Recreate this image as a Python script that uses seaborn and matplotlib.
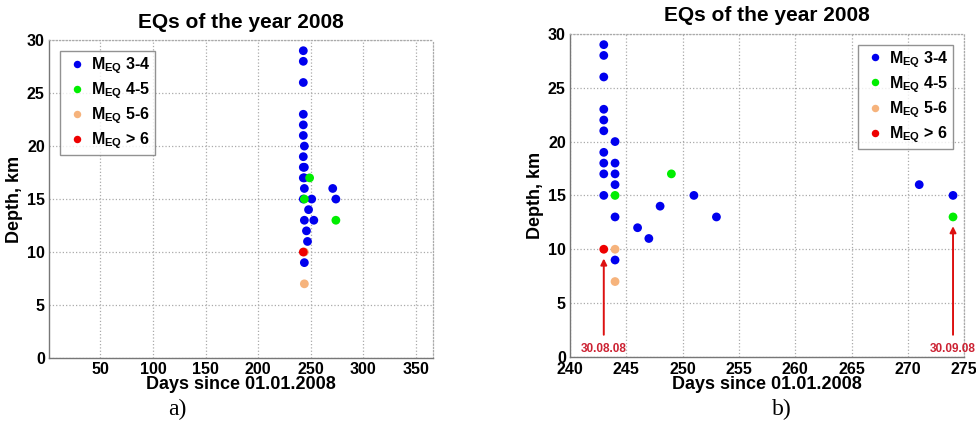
import matplotlib
matplotlib.use("Agg")
import matplotlib.pyplot as plt
import seaborn as sns
import pandas as pd

# events per magnitude class: day of year 2008 and depth in km
blue_days = [243, 243, 243, 243, 243, 243, 243, 243, 243, 243,
             244, 244, 244, 244, 244, 244, 246, 247, 248, 251, 253, 271, 274]
blue_depth = [29, 28, 26, 23, 22, 21, 19, 18, 17, 15,
              20, 18, 17, 16, 13, 9, 12, 11, 14, 15, 13, 16, 15]
green_days = [244, 249, 274]
green_depth = [15, 17, 13]
orange_days = [244, 244]
orange_depth = [10, 7]
red_days = [243]
red_depth = [10]

classes = [r"M$_{\mathbf{EQ}}$ 3-4", r"M$_{\mathbf{EQ}}$ 4-5",
           r"M$_{\mathbf{EQ}}$ 5-6", r"M$_{\mathbf{EQ}}$ > 6"]
colors = ["#0000ee", "#00ee00", "#f6b37c", "#ee0000"]

arrow_days = [243, 274]
arrow_depth = [10, 13]
arrow_text = ["30.08.08", "30.09.08"]

rows = []
for c, dd, zz in zip(classes,
                     [blue_days, green_days, orange_days, red_days],
                     [blue_depth, green_depth, orange_depth, red_depth]):
    for d, z in zip(dd, zz):
        rows.append({"day": d, "depth": z, "class": c})
df = pd.DataFrame(rows)

sns.set_style("white")
plt.rcParams["font.family"] = ["Liberation Sans", "DejaVu Sans"]
plt.rcParams["font.weight"] = "bold"
plt.rcParams["text.color"] = "black"
plt.rcParams["axes.labelcolor"] = "black"
plt.rcParams["xtick.color"] = "black"
plt.rcParams["ytick.color"] = "black"
plt.rcParams["mathtext.fontset"] = "custom"
plt.rcParams["mathtext.rm"] = "Liberation Sans:bold"
plt.rcParams["mathtext.bf"] = "Liberation Sans:bold"

fig = plt.figure(figsize=(9.76, 4.29), dpi=100)
ax_a = fig.add_axes([0.0502, 0.1655, 0.393, 0.741])
ax_b = fig.add_axes([0.584, 0.168, 0.404, 0.753])


def style_axes(ax, xlim, xticks):
    ax.set_xlim(*xlim)
    ax.set_ylim(0, 30)
    ax.set_xticks(xticks)
    ax.set_yticks(range(0, 31, 5))
    ax.grid(True, linestyle=":", color="#aaaaaa", linewidth=0.9)
    ax.set_axisbelow(True)
    for s in ["left", "bottom"]:
        ax.spines[s].set_color("#777777")
        ax.spines[s].set_linewidth(1.0)
    for s in ["top", "right"]:
        ax.spines[s].set_color("#aaaaaa")
        ax.spines[s].set_linestyle(":")
        ax.spines[s].set_linewidth(0.9)
    ax.tick_params(direction="in", length=3, labelsize=11.5,
                   color="#777777", labelcolor="black", pad=3)
    for lab in ax.get_xticklabels() + ax.get_yticklabels():
        lab.set_fontweight("bold")
    ax.set_title("EQs of the year 2008", fontsize=15, fontweight="bold",
                 pad=9)
    ax.set_xlabel("Days since 01.01.2008", fontsize=13, fontweight="bold",
                  labelpad=-1)
    ax.set_ylabel("Depth, km", fontsize=13, fontweight="bold", labelpad=3)


for ax, xlim, xticks, loc in [
    (ax_a, (1, 366), range(50, 351, 50), "upper left"),
    (ax_b, (240, 275), range(240, 276, 5), "upper right"),
]:
    sns.scatterplot(data=df, x="day", y="depth", hue="class",
                    hue_order=classes, palette=colors, s=40, linewidth=0,
                    ax=ax, zorder=3, clip_on=False)
    style_axes(ax, xlim, xticks)
    leg = ax.legend(loc=loc, fontsize=11.5, frameon=True, fancybox=False,
                    borderpad=0.25, labelspacing=0.28, handletextpad=0.1,
                    markerscale=0.85, borderaxespad=0.7, handlelength=1.6)
    leg.get_frame().set_edgecolor("#777777")
    leg.get_frame().set_linewidth(1.0)

ax_b.tick_params(axis="x", pad=4)
for d, z, t in zip(arrow_days, arrow_depth, arrow_text):
    ax_b.annotate("", xy=(d, z - 0.6), xytext=(d, 1.8),
                  arrowprops=dict(arrowstyle="-|>", color="#dd1111", lw=1.4,
                                  mutation_scale=9))
    ax_b.text(d, 0.75, t, color="#cc2233", fontsize=8.5, fontweight="bold",
              ha="center", va="center")

fig.text(0.182, 0.045, "a)", family="Liberation Serif", fontsize=17,
         fontweight="normal", ha="center", va="center")
fig.text(0.801, 0.045, "b)", family="Liberation Serif", fontsize=17,
         fontweight="normal", ha="center", va="center")

fig.savefig("out.png", dpi=100)
